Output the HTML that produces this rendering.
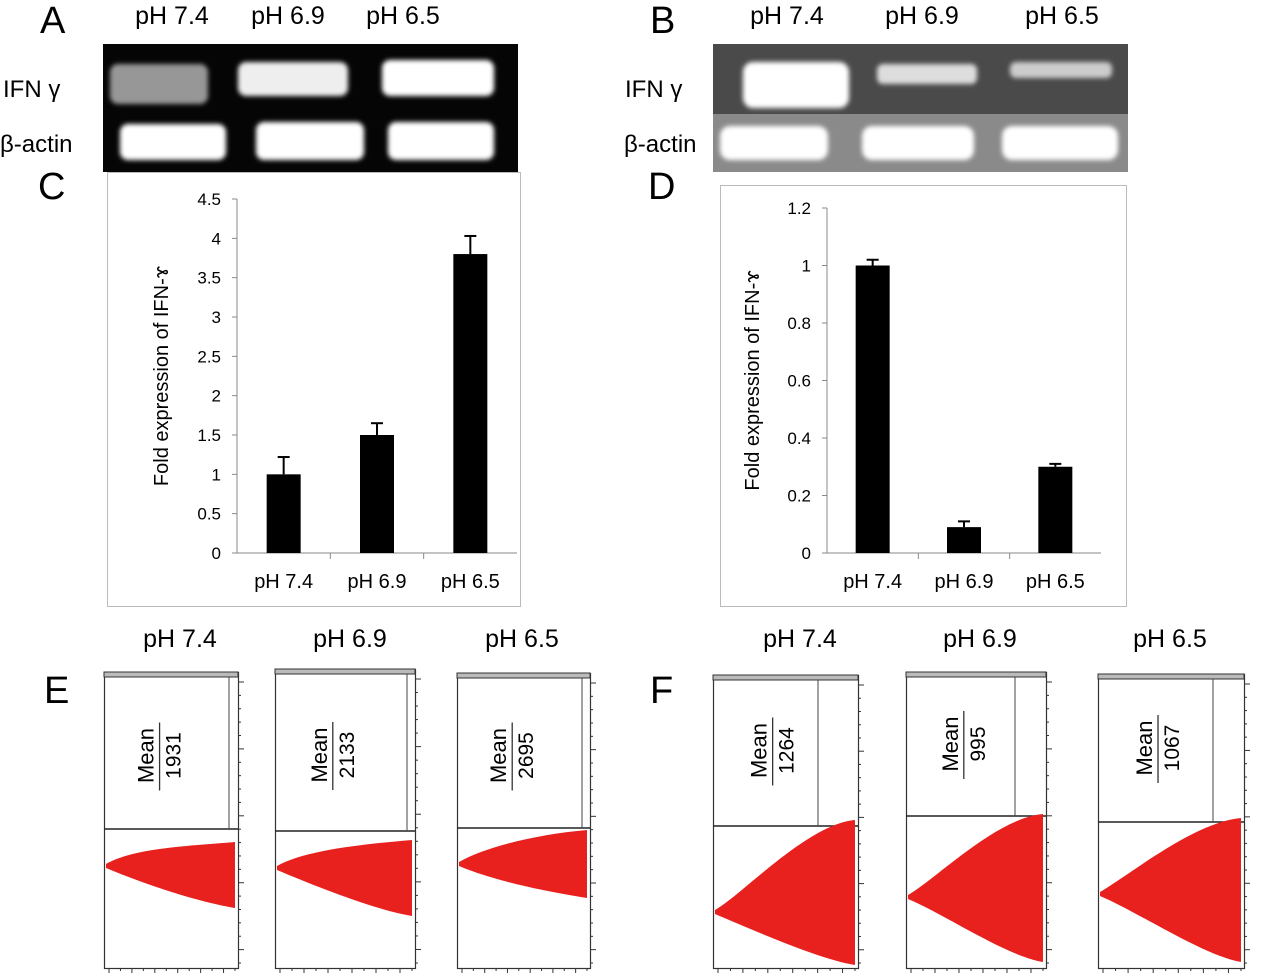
<!DOCTYPE html>
<html><head><meta charset="utf-8"><style>
body{margin:0;background:#fff;width:1280px;height:973px;overflow:hidden;font-family:"Liberation Sans",sans-serif}
svg{position:absolute;left:0;top:0}
</style></head><body>
<svg id="fig" width="1280" height="973" viewBox="0 0 1280 973" font-family="Liberation Sans, sans-serif">
<defs>
<filter id="blur" x="-20%" y="-50%" width="140%" height="200%"><feGaussianBlur stdDeviation="2.5"/></filter>
</defs>
<g font-size="38" fill="#000">
<text x="40" y="33">A</text><text x="650" y="33">B</text>
<text x="38" y="199">C</text><text x="648" y="199">D</text>
<text x="44" y="703">E</text><text x="650" y="703">F</text>
</g>
<g font-size="25" fill="#000" text-anchor="middle">
<text x="172" y="24">pH 7.4</text><text x="288" y="24">pH 6.9</text><text x="403" y="24">pH 6.5</text>
<text x="787" y="24">pH 7.4</text><text x="922" y="24">pH 6.9</text><text x="1062" y="24">pH 6.5</text>
</g>
<g font-size="24" fill="#000">
<text x="3" y="97">IFN γ</text><text x="0" y="152">β-actin</text>
<text x="625" y="97">IFN γ</text><text x="624" y="152">β-actin</text>
</g>
<g>
<rect x="103" y="44" width="415" height="128" fill="#050505"/>
<g filter="url(#blur)">
<rect x="110" y="64" width="98" height="40" rx="8" fill="#bbb" opacity="0.8"/>
<rect x="238" y="62" width="110" height="34" rx="8" fill="#eee"/>
<rect x="382" y="60" width="112" height="36" rx="8" fill="#fff"/>
<rect x="120" y="124" width="106" height="36" rx="8" fill="#fff"/>
<rect x="256" y="122" width="108" height="38" rx="8" fill="#fff"/>
<rect x="388" y="122" width="106" height="38" rx="8" fill="#fff"/>
</g></g>
<g>
<rect x="713" y="44" width="415" height="70" fill="#4a4a4a"/>
<rect x="713" y="114" width="415" height="58" fill="#8a8a8a"/>
<g filter="url(#blur)">
<rect x="743" y="62" width="106" height="46" rx="10" fill="#fff"/>
<rect x="877" y="64" width="100" height="20" rx="6" fill="#ddd"/>
<rect x="1010" y="62" width="102" height="16" rx="6" fill="#ccc"/>
<rect x="720" y="126" width="108" height="34" rx="10" fill="#fff"/>
<rect x="862" y="126" width="112" height="34" rx="10" fill="#fff"/>
<rect x="1002" y="126" width="116" height="34" rx="10" fill="#fff"/>
</g></g>
<rect x="107.5" y="172.5" width="413" height="434" fill="none" stroke="#bbb"/>
<rect x="720.5" y="185.5" width="406" height="421" fill="none" stroke="#bbb"/>
<g id="chartC"></g>
<g id="chartD"></g>
<g id="flow"></g>
</svg>
<script>
const NS='http://www.w3.org/2000/svg';
function mk(p,t,a,txt){const e=document.createElementNS(NS,t);for(const k in a)e.setAttribute(k,a[k]);if(txt!==undefined)e.textContent=txt;p.appendChild(e);return e;}

const categories=['pH 7.4','pH 6.9','pH 6.5'];
const cValues=[1.0,1.5,3.8];
const cErrors=[0.22,0.15,0.23];
const cTicks=['0','0.5','1','1.5','2','2.5','3','3.5','4','4.5'];
const dValues=[1.0,0.09,0.3];
const dErrors=[0.02,0.02,0.01];
const dTicks=['0','0.2','0.4','0.6','0.8','1','1.2'];

function chart(g,cfg,vals,errs,ticks){
  const y=v=>cfg.y0-(v/cfg.max)*(cfg.y0-cfg.yTop);
  const bw=(cfg.x1-cfg.x0)/vals.length;
  const ax=mk(g,'line',{x1:cfg.x0,y1:cfg.yTop,x2:cfg.x0,y2:cfg.y0,stroke:'#888','stroke-width':1});
  
  const xa=mk(g,'line',{x1:cfg.x0-5,y1:cfg.y0,x2:cfg.x1,y2:cfg.y0,stroke:'#888'});
  
  ticks.forEach(t=>{const v=parseFloat(t);const yy=y(v);
    mk(g,'line',{x1:cfg.x0-5,y1:yy,x2:cfg.x0,y2:yy,stroke:'#888'});
    const tl=mk(g,'text',{x:cfg.x0-16,y:yy+6,'font-size':17,'text-anchor':'end'},t);
    });
  for(let i=1;i<vals.length;i++){mk(g,'line',{x1:cfg.x0+bw*i,y1:cfg.y0,x2:cfg.x0+bw*i,y2:cfg.y0+6,stroke:'#888'});}
  vals.forEach((v,i)=>{const cx=cfg.x0+bw*(i+0.5);
    const b=mk(g,'rect',{x:cx-17,y:y(v),width:34,height:cfg.y0-y(v),fill:'#000'});
    
    const ye=y(v+errs[i]);
    mk(g,'line',{x1:cx,y1:y(v),x2:cx,y2:ye,stroke:'#000','stroke-width':2});
    mk(g,'line',{x1:cx-6,y1:ye,x2:cx+6,y2:ye,stroke:'#000','stroke-width':2});
    const cl=mk(g,'text',{x:cx,y:cfg.y0+35,'font-size':20,'text-anchor':'middle'},categories[i]);
    });
  const tt=mk(g,'text',{x:cfg.tx,y:(cfg.y0+cfg.yTop)/2,'font-size':20,'text-anchor':'middle',transform:`rotate(-90 ${cfg.tx} ${(cfg.y0+cfg.yTop)/2})`},'Fold expression of IFN-ɤ');
  
}
chart(document.getElementById('chartC'),{x0:237,x1:517,y0:553,yTop:199,max:4.5,tx:168},cValues,cErrors,cTicks);
chart(document.getElementById('chartD'),{x0:827,x1:1101,y0:553,yTop:208,max:1.2,tx:759},dValues,dErrors,dTicks);

const flowLabels=['pH 7.4','pH 6.9','pH 6.5','pH 7.4','pH 6.9','pH 6.5'];
const flowMeans=['1931','2133','2695','1264','995','1067'];
const panels=[
 {x:104,w:134,top:672,div:829,tipY:864,r1:842,r2:908,vline:229,tx:180},
 {x:275,w:140,top:669,div:831,tipY:866,r1:840,r2:916,vline:407,tx:350},
 {x:457,w:133,top:673,div:828,tipY:862,r1:830,r2:898,vline:582,tx:522},
 {x:713,w:145,top:675,div:826,tipY:910,r1:820,r2:965,vline:818,tx:800},
 {x:906,w:140,top:672,div:816,tipY:895,r1:814,r2:962,vline:1015,tx:980},
 {x:1098,w:146,top:674,div:822,tipY:892,r1:818,r2:962,vline:1213,tx:1170}];
const F=document.getElementById('flow');
panels.forEach((p,i)=>{
  const g=mk(F,'g',{});
  
  const t=mk(g,'text',{x:p.tx,y:647,'font-size':25,'text-anchor':'middle'},flowLabels[i]);
  
  const bot=968,R=p.x+p.w;
  mk(g,'rect',{x:p.x+.5,y:p.top+.5,width:p.w,height:bot-p.top,fill:'#fff',stroke:'#333','stroke-width':1.2});
  mk(g,'rect',{x:p.x,y:p.top,width:p.w,height:5,fill:'#bbb',stroke:'#333','stroke-width':1});
  mk(g,'line',{x1:p.x,y1:p.div,x2:R,y2:p.div,stroke:'#222','stroke-width':1.5});
  mk(g,'line',{x1:p.vline,y1:p.top+5,x2:p.vline,y2:p.div,stroke:'#444'});
  const d=`M${p.x+2},${p.tipY} C${p.x+30},${p.tipY-16} ${R-50},${p.r1+4} ${R-3},${p.r1} L${R-3},${p.r2} C${R-40},${p.r2-6} ${p.x+40},${p.tipY+20} ${p.x+2},${p.tipY+4}Z`;
  const h=mk(g,'path',{d:d,fill:'#e8211f'});
  
  for(let k=0;k<22;k++){const yy=p.top+10+k*(bot-p.top-15)/21;mk(g,'line',{x1:R,y1:yy,x2:R+(k%5?3:6),y2:yy,stroke:'#333'});}
  for(let k=0;k<12;k++){const xx=p.x+5+k*(p.w-8)/11;mk(g,'line',{x1:xx,y1:bot,x2:xx,y2:bot+(k%2?3:5),stroke:'#333'});}
  const cx=p.x+p.w*0.37, cy=(p.top+p.div)/2+ (i<3?5:0);
  const m=mk(g,'text',{x:cx,y:cy,'font-size':22,'text-anchor':'middle',transform:`rotate(-90 ${cx} ${cy})`},'Mean');
  
  mk(g,'line',{x1:cx+6,y1:cy-33,x2:cx+6,y2:cy+35,stroke:'#333','stroke-width':1.3});
  const n=mk(g,'text',{x:cx+27,y:cy,'font-size':21,'text-anchor':'middle',transform:`rotate(-90 ${cx+27} ${cy})`},flowMeans[i]);
  
});
</script>
</body></html>
